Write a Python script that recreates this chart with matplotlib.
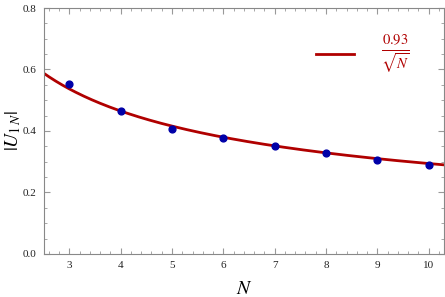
import numpy as np
import matplotlib
matplotlib.use('Agg')
import matplotlib.pyplot as plt
from matplotlib.ticker import MultipleLocator

plt.rcParams['font.family'] = 'Liberation Serif'
plt.rcParams['mathtext.fontset'] = 'stix'

# data points |U_1N| vs N
N = [3, 4, 5, 6, 7, 8, 9, 10]
U = [0.554, 0.465, 0.406, 0.378, 0.350, 0.328, 0.305, 0.289]
coef = 0.93

fig = plt.figure(figsize=(4.45, 2.97), dpi=100)
ax = fig.add_axes([0.098, 0.145, 0.9, 0.828])

xx = np.linspace(2.5, 10.3, 300)
ax.plot(xx, coef / np.sqrt(xx), color='#b00000', lw=2.0, zorder=2)
ax.scatter(N, U, s=24, color='#0000a8', zorder=3)

ax.set_xlim(2.5, 10.3)
ax.set_ylim(0, 0.8)
ax.xaxis.set_major_locator(MultipleLocator(1))
ax.xaxis.set_minor_locator(MultipleLocator(0.2))
ax.yaxis.set_major_locator(MultipleLocator(0.2))
ax.yaxis.set_minor_locator(MultipleLocator(0.05))
ax.yaxis.set_major_formatter(matplotlib.ticker.FormatStrFormatter('%.1f'))
ax.tick_params(which='both', direction='in', top=True, right=True,
               color='#999999', labelsize=8, labelcolor='#222222', pad=5)
ax.tick_params(which='major', length=4)
ax.tick_params(which='minor', length=2)
for s in ax.spines.values():
    s.set_color('#888888')

ax.set_xlabel(r'$N$', fontsize=14)
ax.set_ylabel(r'$|U_{1\,N}|$', fontsize=14)
ax.xaxis.set_label_coords(0.5, -0.11)
ax.yaxis.set_label_coords(-0.052, 0.5)

# legend drawn by hand
ax.plot([7.8, 8.55], [0.65, 0.65], color='#b00000', lw=2.0)
ax.text(9.35, 0.65, r'$\frac{0.93}{\sqrt{N}}$', color='#b00000',
        fontsize=15, ha='center', va='center')

fig.savefig('out.png', dpi=100)
